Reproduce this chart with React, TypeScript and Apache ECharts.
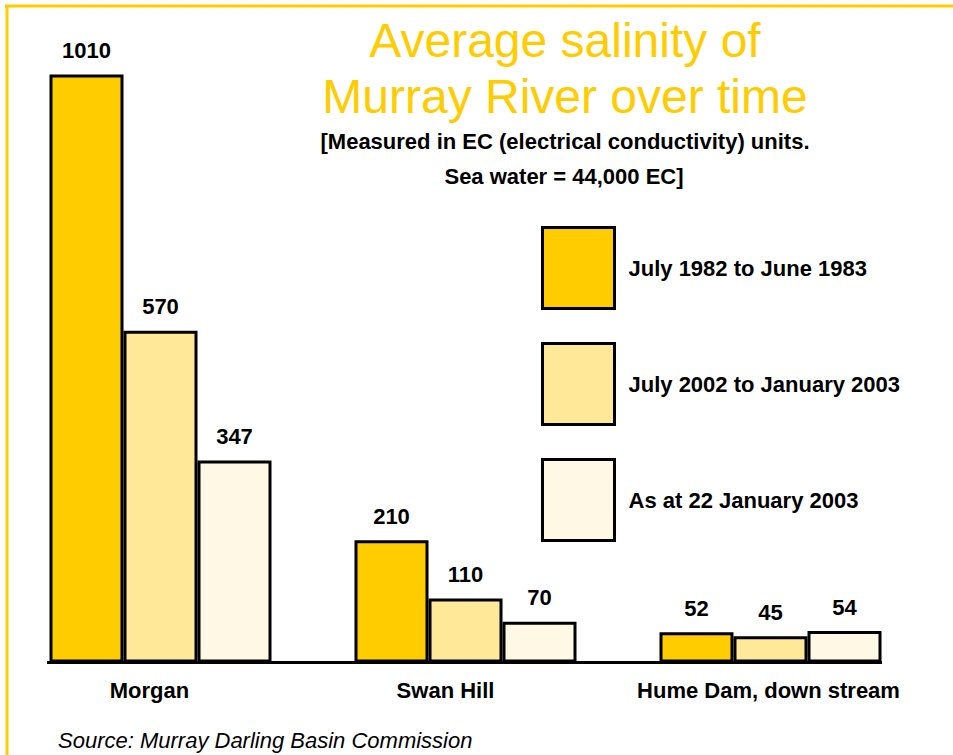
import React, { useEffect, useRef } from "react";
import * as echarts from "echarts";

const categories = ["Morgan", "Swan Hill", "Hume Dam, down stream"];
const seriesNames = [
  "July 1982 to June 1983",
  "July 2002 to January 2003",
  "As at 22 January 2003",
];
const values1982 = [1010, 210, 52];
const values2002 = [570, 110, 45];
const values2003 = [347, 70, 54];
const seriesColors = ["#FFCC00", "#FFE999", "#FFF8E4"];

const titleLines = ["Average salinity of", "Murray River over time"];
const subtitleLines = [
  "[Measured in EC (electrical conductivity) units.",
  "Sea water = 44,000 EC]",
];
const sourceText = "Source: Murray Darling Basin Commission";

const FONT = "'Liberation Sans', Arial, sans-serif";
// horizontal nudge (px, leftwards) of each category label, as in the original slide
const labelNudge = [11, 20, 2];

export default function App() {
  const ref = useRef<HTMLDivElement>(null);
  useEffect(() => {
    if (!ref.current) return;
    const chart = echarts.init(ref.current, undefined, { renderer: "svg" });
    const allValues = [values1982, values2002, values2003];
    const series = allValues.map((vals, i) => ({
      name: seriesNames[i],
      type: "bar",
      data: vals,
      barWidth: 74,
      barGap: "0%",
      itemStyle: { color: seriesColors[i], borderColor: "#000", borderWidth: 3 },
      label: {
        show: true,
        position: "top",
        distance: 13,
        color: "#000",
        fontFamily: FONT,
        fontWeight: "bold",
        fontSize: 22,
      },
    }));
    const xData = categories.map((c, i) => ({
      value: c,
      textStyle: { padding: [0, labelNudge[i] * 2, 0, 0] },
    }));
    chart.setOption({
      animation: false,
      backgroundColor: "#fff",
      grid: { left: 8, right: 30, top: 74.5, bottom: 92.5 },
      xAxis: {
        type: "category",
        data: xData,
        axisLine: { show: false },
        axisTick: { show: false },
        axisLabel: {
          interval: 0,
          margin: 16.5,
          color: "#000",
          fontFamily: FONT,
          fontWeight: "bold",
          fontSize: 22,
        },
      },
      yAxis: {
        type: "value",
        min: 0,
        max: 1010,
        show: false,
        splitLine: { show: false },
      },
      legend: {
        data: seriesNames,
        orient: "vertical",
        left: 541,
        top: 226,
        padding: 0,
        itemWidth: 72,
        itemHeight: 81,
        itemGap: 32,
        icon: "rect",
        itemStyle: { borderColor: "#000", borderWidth: 3 },
        textStyle: {
          color: "#000",
          fontFamily: FONT,
          fontWeight: "bold",
          fontSize: 22,
          padding: [0, 0, 6, 9],
        },
        selectedMode: false,
      },
      graphic: [
        { type: "line", shape: { x1: 5, y1: 6, x2: 953, y2: 6 }, style: { stroke: "#FFCC00", lineWidth: 3 } },
        { type: "line", shape: { x1: 7, y1: 5, x2: 7, y2: 755 }, style: { stroke: "#FFCC00", lineWidth: 3 } },
        { type: "line", shape: { x1: 47, y1: 662.5, x2: 882, y2: 662.5 }, style: { stroke: "#000", lineWidth: 3 } },
        {
          type: "text", x: 565, y: 40.5,
          style: { text: titleLines[0], fill: "#FFCC00", font: `48px ${FONT}`, textAlign: "center", textVerticalAlign: "middle" },
        },
        {
          type: "text", x: 565, y: 96,
          style: { text: titleLines[1], fill: "#FFCC00", font: `48px ${FONT}`, textAlign: "center", textVerticalAlign: "middle" },
        },
        {
          type: "text", x: 565, y: 141,
          style: { text: subtitleLines[0], fill: "#000", font: `bold 22px ${FONT}`, textAlign: "center", textVerticalAlign: "middle" },
        },
        {
          type: "text", x: 564, y: 176,
          style: { text: subtitleLines[1], fill: "#000", font: `bold 22px ${FONT}`, textAlign: "center", textVerticalAlign: "middle" },
        },
        {
          type: "text", x: 58, y: 740,
          style: { text: sourceText, fill: "#000", font: `italic 22px ${FONT}`, textAlign: "left", textVerticalAlign: "middle" },
        },
      ],
      series,
    });
    return () => chart.dispose();
  }, []);
  return (
    <div
      ref={ref}
      style={{ position: "fixed", left: 0, top: 0, width: 953, height: 755 }}
    />
  );
}
